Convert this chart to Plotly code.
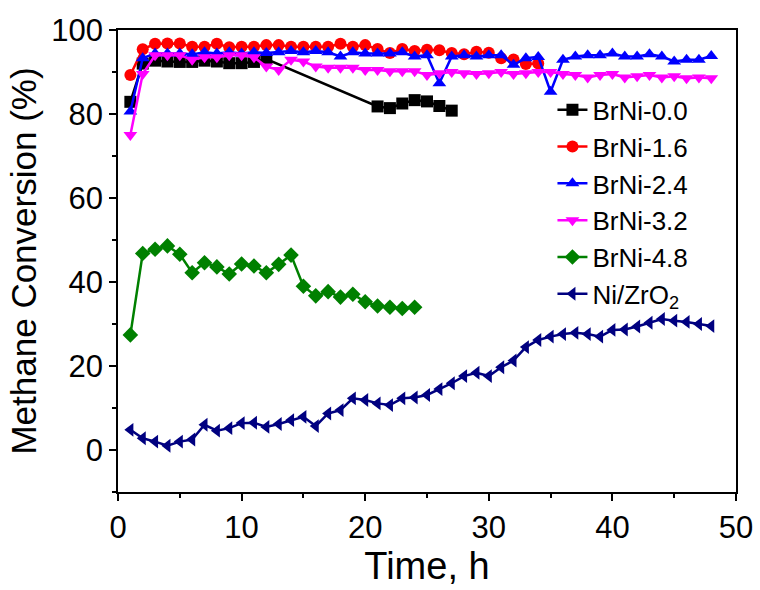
import plotly.graph_objects as go

t_all = list(range(1, 49))

# BrNi-0.0 (two segments: 1-12 and 21-27)
t_00 = list(range(1, 13)) + list(range(21, 28))
y_00 = [82.9, 92.0, 92.7, 92.5, 92.4, 92.4, 92.7, 92.5, 92.1, 92.1, 92.4, 93.1,
        81.8, 81.4, 82.5, 83.3, 83.0, 81.9, 80.8]

t_16 = list(range(1, 35))
y_16 = [89.3, 95.4, 96.7, 96.8, 96.8, 96.0, 96.0, 96.7, 95.9, 96.0, 96.0, 96.4,
        96.4, 96.0, 96.0, 96.0, 96.0, 96.7, 96.0, 96.4, 95.5, 94.5, 95.5, 95.0,
        95.3, 95.2, 94.5, 94.2, 94.8, 94.6, 93.3, 93.0, 91.9, 92.0]

t_24 = t_all
y_24 = [80.6, 93.3, 94.4, 94.4, 94.4, 94.2, 94.7, 94.4, 94.7, 94.4, 94.7, 94.5,
        94.7, 95.0, 94.7, 95.0, 94.7, 93.7, 94.7, 94.4, 94.4, 94.4, 94.7, 93.7,
        94.0, 87.3, 93.7, 94.0, 93.7, 94.0, 94.0, 91.7, 93.3, 93.6, 85.3, 92.9,
        93.7, 94.0, 94.0, 94.4, 93.7, 93.7, 94.2, 93.7, 92.5, 92.9, 92.9, 93.8]

t_32 = t_all
y_32 = [75.0, 89.5, 94.0, 94.0, 94.0, 92.9, 93.5, 93.5, 94.0, 94.0, 93.5, 91.3,
        90.5, 92.9, 92.5, 91.3, 91.0, 91.0, 91.0, 90.5, 90.5, 90.2, 90.2, 90.2,
        89.3, 89.7, 90.0, 89.7, 89.5, 89.7, 90.0, 89.5, 89.7, 90.0, 90.0, 89.5,
        89.3, 88.7, 89.3, 89.5, 88.7, 89.0, 89.3, 88.7, 89.0, 88.5, 88.7, 88.5]

t_48 = list(range(1, 25))
y_48 = [27.4, 46.8, 47.8, 48.6, 46.6, 42.2, 44.6, 43.6, 41.9, 44.3, 43.8, 42.2,
        44.2, 46.4, 39.0, 36.7, 37.7, 36.4, 37.1, 35.3, 34.3, 34.0, 33.7, 34.0]

t_ni = t_all
y_ni = [4.8, 2.8, 2.0, 1.0, 2.0, 2.5, 6.0, 4.6, 5.2, 6.4, 6.5, 5.5,
        6.2, 7.1, 7.9, 5.7, 8.7, 9.5, 12.3, 11.9, 11.1, 10.7, 12.3, 12.5,
        13.1, 14.5, 15.9, 17.6, 18.4, 17.6, 19.7, 21.3, 24.5, 26.2, 27.0, 27.6,
        27.9, 27.6, 27.0, 28.6, 28.7, 29.4, 30.3, 31.2, 30.8, 30.5, 30.0, 29.5]

series = [
    ("BrNi-0.0", t_00, y_00, "black", "square"),
    ("BrNi-1.6", t_16, y_16, "red", "circle"),
    ("BrNi-2.4", t_24, y_24, "blue", "triangle-up"),
    ("BrNi-3.2", t_32, y_32, "magenta", "triangle-down"),
    ("BrNi-4.8", t_48, y_48, "green", "diamond"),
    ("Ni/ZrO<sub>2</sub>", t_ni, y_ni, "navy", "triangle-left"),
]

FONT = "Liberation Sans, Arial"

fig = go.Figure()
for name, xs, ys, col, sym in series:
    fig.add_trace(go.Scatter(
        x=xs, y=ys, name=name, mode="lines+markers",
        line=dict(color=col, width=2.5),
        marker=dict(symbol=sym, size=12, color=col),
    ))

axis_common = dict(
    showline=True, linecolor="black", linewidth=1.5, mirror=True,
    ticks="outside", ticklen=7, tickwidth=1.5, tickcolor="black",
    showgrid=False, zeroline=False, automargin=False,
    tickfont=dict(family=FONT, size=31, color="black"),
)

fig.update_xaxes(range=[0, 50], dtick=10, tick0=0,
                 minor=dict(ticks="outside", ticklen=4, dtick=5, tickcolor="black", tickwidth=1.5),
                 title=dict(text="Time, h", font=dict(family=FONT, size=38, color="black"), standoff=6),
                 **axis_common)
fig.update_yaxes(range=[-10, 100], dtick=20, tick0=0,
                 minor=dict(ticks="outside", ticklen=4, dtick=10, tickcolor="black", tickwidth=1.5),
                 title=dict(text="Methane Conversion (%)", font=dict(family=FONT, size=35, color="black"), standoff=4),
                 **axis_common)

fig.update_layout(
    width=760, height=590,
    margin=dict(l=118, r=24, t=30, b=98),
    paper_bgcolor="white", plot_bgcolor="white",
    legend=dict(x=0.703, y=0.878, xanchor="left", yanchor="top",
                bgcolor="rgba(0,0,0,0)",
                font=dict(family=FONT, size=26, color="black"),
                tracegroupgap=0, itemwidth=30),
    showlegend=True,
)

fig.write_html("out.html")
